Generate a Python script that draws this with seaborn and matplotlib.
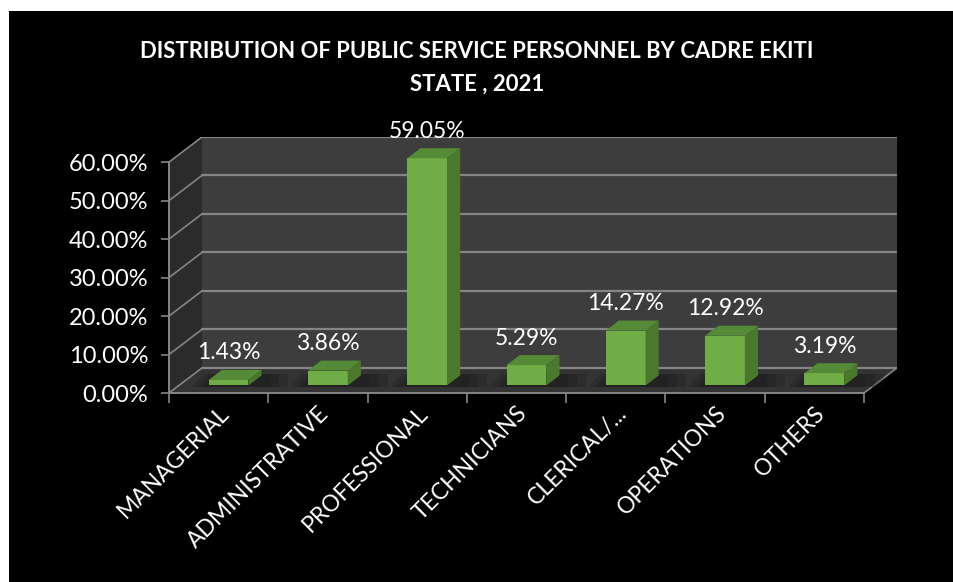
import numpy as np
import pandas as pd
import matplotlib
matplotlib.use("Agg")
import matplotlib.pyplot as plt
from matplotlib.patches import Polygon, Rectangle
import seaborn as sns

# dados
cadres = ['MANAGERIAL', 'ADMINISTRATIVE', 'PROFESSIONAL', 'TECHNICIANS',
          'CLERICAL/...', 'OPERATIONS', 'OTHERS']
share = [1.43, 3.86, 59.05, 5.29, 14.27, 12.92, 3.19]
yticks = [0, 10, 20, 30, 40, 50, 60]

df = pd.DataFrame({'Cadre': cadres, 'Share': share})

sns.set_theme(style='dark')
plt.rcParams['font.family'] = ['Lato', 'DejaVu Sans']

# profundidade do "3D" (em unidades de dados)
DX, DY = 0.332, 6.52
t0, t1 = 0.3, 0.7          # faixa de profundidade das barras
bw = 0.40                  # largura das barras

fig = plt.figure(figsize=(9.54, 5.82), dpi=100)
fig.patch.set_facecolor('white')
fig.patches.append(Rectangle((9 / 954, 0), 1, 1 - 11 / 582, transform=fig.transFigure,
                             facecolor='black', edgecolor='none', zorder=-10))

ax = fig.add_axes([169 / 954, 189 / 582, 728 / 954, 256 / 582])
ax.set_facecolor('none')

n = len(cadres)
x0, x1 = -0.5, n - 0.5
ytop = yticks[-1]

# paredes e piso
ax.add_patch(Polygon([(x0 + DX, DY), (x1 + DX, DY), (x1 + DX, ytop + DY), (x0 + DX, ytop + DY)],
                     closed=True, facecolor='#3d3d3d', edgecolor='none', zorder=0))
ax.add_patch(Polygon([(x0, 0), (x0 + DX, DY), (x0 + DX, ytop + DY), (x0, ytop)],
                     closed=True, facecolor='#2b2b2b', edgecolor='none', zorder=0))
ax.add_patch(Polygon([(x0, 0), (x1, 0), (x1 + DX, DY), (x0 + DX, DY)],
                     closed=True, facecolor='#333333', edgecolor='none', zorder=0))
for v in yticks:
    ax.plot([x0 + DX, x1 + DX], [v + DY, v + DY], color='#858585', lw=1.6, zorder=1)
    ax.plot([x0, x0 + DX], [v, v + DY], color='#858585', lw=1.2, zorder=1)
ax.plot([x1, x1 + DX], [0, DY], color='#858585', lw=1.2, zorder=1)

# barras (face frontal pelo seaborn)
n_before = len(ax.patches)
sns.barplot(data=df, x='Cadre', y='Share', color='#70ad47', width=bw,
            saturation=1, edgecolor='none', zorder=3, ax=ax)
bars = ax.patches[n_before:n_before + n]

d = t1 - t0
for i, (p, v) in enumerate(zip(bars, share)):
    xl = p.get_x() + t0 * DX
    yb = t0 * DY
    p.set_x(xl)
    p.set_y(yb)
    xr = xl + bw
    ytp = yb + v
    # sombra suave no piso
    for k in range(3):
        g = 0.06 * (k + 1)
        ax.add_patch(Polygon([(xl - g, yb - 0.4), (xr + d * DX + g * 1.5, yb - 0.4),
                              (xr + d * DX + g * 1.5, yb + d * DY + 0.3), (xl - g + d * DX, yb + d * DY + 0.3)],
                             closed=True, facecolor='#151515', edgecolor='none', alpha=0.22, zorder=2))
    # topo
    ax.add_patch(Polygon([(xl, ytp), (xr, ytp), (xr + d * DX, ytp + d * DY), (xl + d * DX, ytp + d * DY)],
                         closed=True, facecolor='#558b36', edgecolor='none', zorder=4))
    # lateral
    ax.add_patch(Polygon([(xr, yb), (xr + d * DX, yb + d * DY), (xr + d * DX, ytp + d * DY), (xr, ytp)],
                         closed=True, facecolor='#4a792d', edgecolor='none', zorder=4))
    ax.text(i + t0 * DX, v + t1 * DY + 4.4, f'{v:.2f}%', ha='center', va='center',
            color='white', fontsize=16.5, zorder=5)

ax.set_xlim(x0, x1 + DX)
ax.set_ylim(0, ytop + DY)

for s in ['top', 'right']:
    ax.spines[s].set_visible(False)
for s in ['left', 'bottom']:
    ax.spines[s].set_visible(True)
    ax.spines[s].set_color('#858585')
    ax.spines[s].set_linewidth(1.4)
ax.spines['left'].set_bounds(0, ytop)
ax.spines['bottom'].set_bounds(x0, x1)

ax.set_yticks(yticks)
ax.set_yticklabels([f'{v:.2f}%' for v in yticks], color='white', fontsize=17)
ax.tick_params(axis='y', which='major', left=True, length=6, width=1.2, color='#858585', pad=9)

ax.set_xticks(range(n))
ax.set_xticklabels(cadres, rotation=45, ha='right', rotation_mode='anchor',
                   color='white', fontsize=16.5)
ax.set_xticks(np.arange(x0, x1 + 0.01, 1), minor=True)
ax.tick_params(axis='x', which='major', bottom=False, length=0, pad=7)
ax.tick_params(axis='x', which='minor', bottom=True, length=7, width=1.2, color='#858585')
ax.grid(False)
ax.set_xlabel('')
ax.set_ylabel('')

fig.text(0.5, 1 - 51 / 582, 'DISTRIBUTION OF PUBLIC SERVICE PERSONNEL BY CADRE EKITI',
         ha='center', va='center', color='white', fontsize=15.9, fontweight='bold')
fig.text(0.5, 1 - 84 / 582, 'STATE , 2021',
         ha='center', va='center', color='white', fontsize=15.9, fontweight='bold')

fig.savefig('out.png', dpi=100, facecolor=fig.get_facecolor())
